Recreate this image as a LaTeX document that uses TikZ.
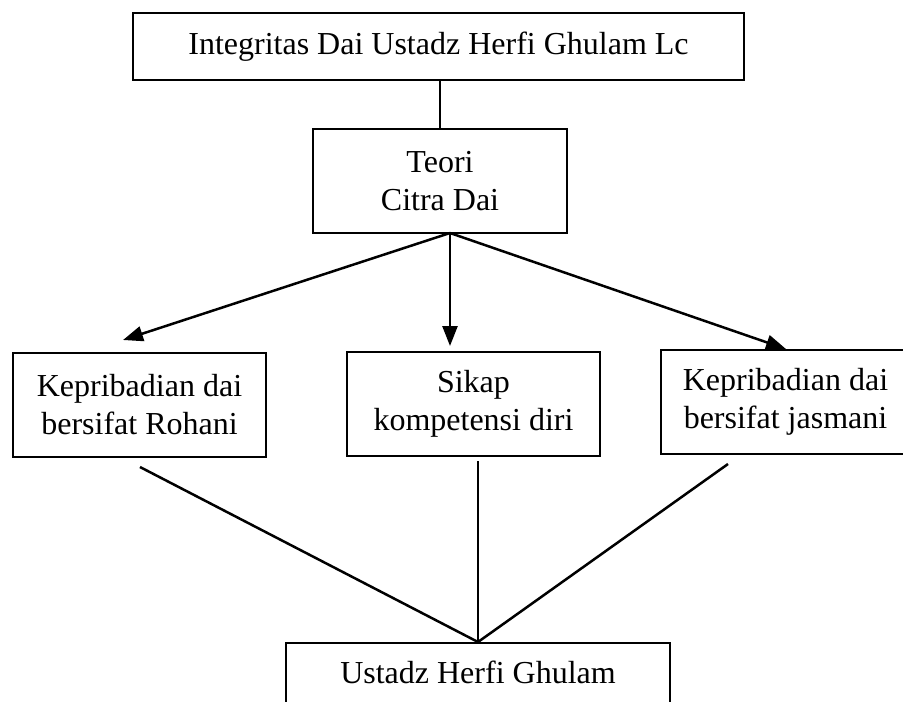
\documentclass[tikz,border=0pt]{standalone}
\usepackage{fontspec}
\setmainfont{Liberation Serif}
\usetikzlibrary{arrows.meta}
\begin{document}
\begin{tikzpicture}[x=1pt,y=-1pt,
  box/.style={draw=black, line width=2pt, align=center, inner sep=0pt,
    font=\fontsize{32}{38}\selectfont},
  conn/.style={line width=2.5pt},
  arr/.style={conn, -{Triangle[length=20pt,width=15pt]}}]
\useasboundingbox (0,0) rectangle (903,702);
\node[box, minimum width=611pt, minimum height=67pt] (top) at (438.5,46.5) {Integritas Dai Ustadz Herfi Ghulam Lc};
\node[box, minimum width=254pt, minimum height=104pt] (teori) at (440,181) {Teori\\Citra Dai};
\node[box, minimum width=253pt, minimum height=104pt] (left) at (139.5,405) {Kepribadian dai\\bersifat Rohani};
\node[box, minimum width=253pt, minimum height=104pt] (mid) at (473.5,404) {Sikap\\kompetensi diri};
\node[box, minimum width=249pt, minimum height=104pt] (right) at (785.5,402) {Kepribadian dai\\bersifat jasmani};
\node[box, minimum width=384pt, text height=40pt, text depth=60pt, anchor=north] (bot) at (478,642) {Ustadz Herfi Ghulam};
\coordinate (fork) at (450,233);
\coordinate (tipL) at (123,340);
\coordinate (tipM) at (450,346);
\coordinate (tipR) at (786,349);
\coordinate (sL) at (140,467);
\coordinate (sM) at (478,461);
\coordinate (sR) at (728,464);
\draw[conn] (top.south -| teori.north) -- (teori.north);
\draw[arr] (fork) -- (tipL);
\draw[arr] (fork) -- (tipM);
\draw[arr] (fork) -- (tipR);
\draw[conn] (sL) -- (bot.north);
\draw[conn] (sM) -- (bot.north);
\draw[conn] (sR) -- (bot.north);
\end{tikzpicture}
\end{document}
